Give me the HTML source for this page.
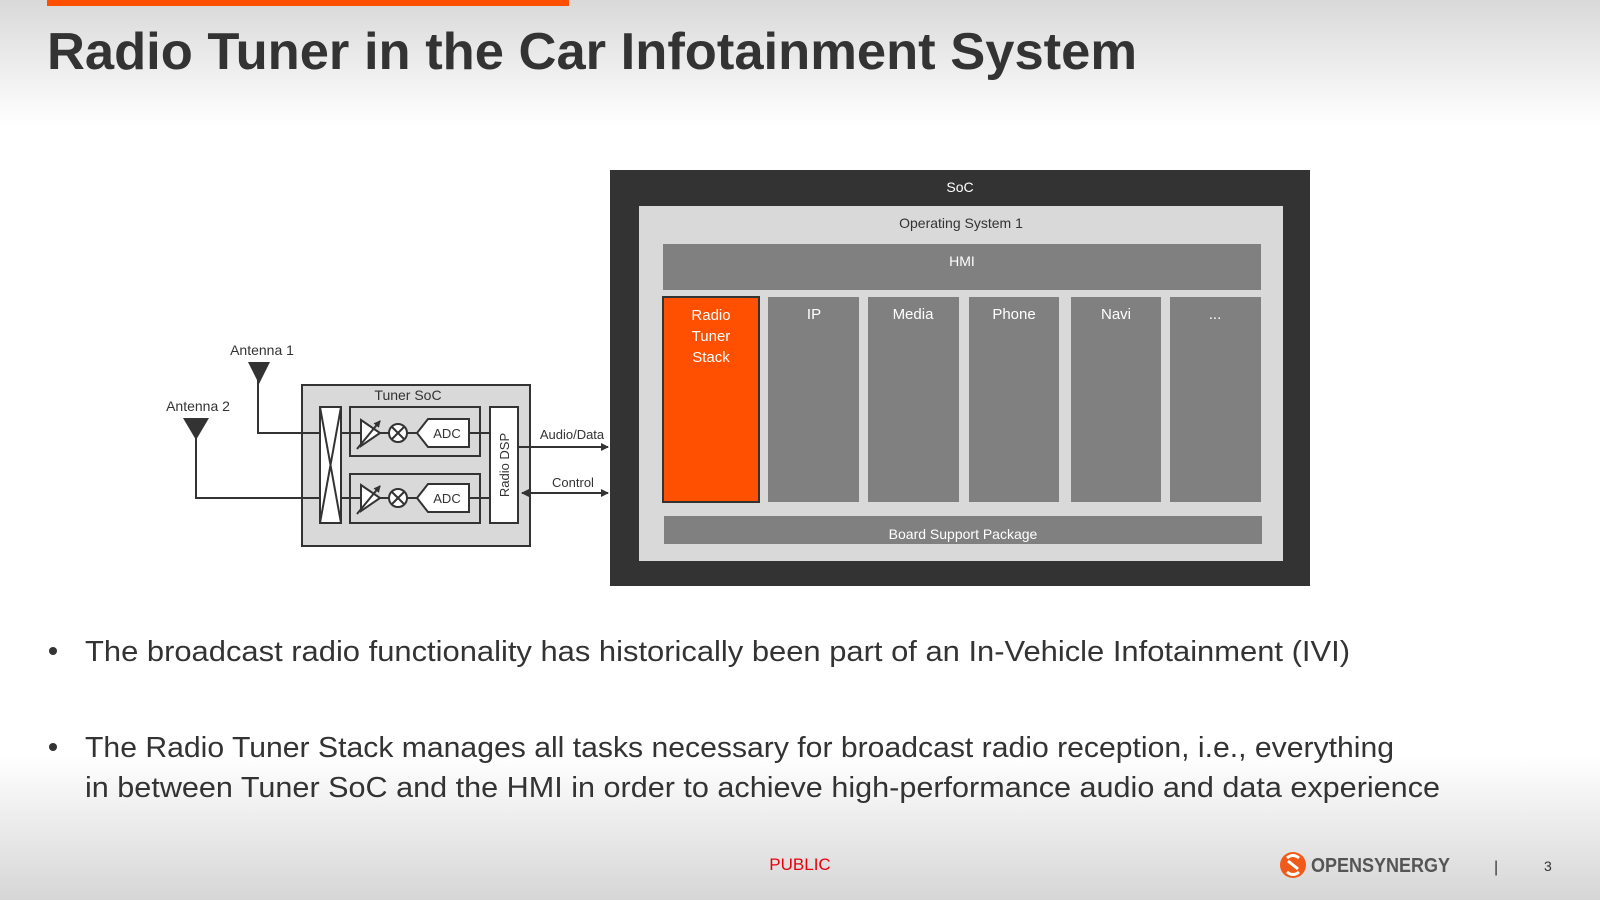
<!DOCTYPE html>
<html><head><meta charset="utf-8"><style>html,body{margin:0;padding:0;width:1600px;height:900px;overflow:hidden}</style></head><body>
<svg width="1600" height="900" viewBox="0 0 1600 900" xmlns="http://www.w3.org/2000/svg" font-family="Liberation Sans, sans-serif">
<defs>
<linearGradient id="bg" x1="0" y1="0" x2="0" y2="1">
<stop offset="0" stop-color="#d9d9d9"/><stop offset="0.14" stop-color="#ffffff"/>
<stop offset="0.84" stop-color="#ffffff"/><stop offset="1" stop-color="#d6d6d6"/>
</linearGradient>
<marker id="ar" markerWidth="8" markerHeight="8" refX="7" refY="4" orient="auto" markerUnits="userSpaceOnUse"><path d="M0,0 L8,4 L0,8z" fill="#333"/></marker>
<marker id="al" markerWidth="8" markerHeight="8" refX="1" refY="4" orient="auto" markerUnits="userSpaceOnUse"><path d="M8,0 L0,4 L8,8z" fill="#333"/></marker>
<marker id="as" markerWidth="7" markerHeight="7" refX="6" refY="3.5" orient="auto" markerUnits="userSpaceOnUse"><path d="M0,0 L7,3.5 L0,7z" fill="#333"/></marker>
</defs>
<rect width="1600" height="900" fill="url(#bg)"/>
<rect x="47" y="0" width="522" height="6" fill="#ff4f00"/>
<text x="47" y="69" font-size="52" font-weight="bold" fill="#333" textLength="1090" lengthAdjust="spacingAndGlyphs">Radio Tuner in the Car Infotainment System</text>

<rect x="610" y="170" width="700" height="416" fill="#333"/>
<text x="960" y="192" font-size="14" fill="#fff" text-anchor="middle">SoC</text>
<rect x="639" y="206" width="644" height="355" fill="#d9d9d9"/>
<text x="961" y="228" font-size="14" fill="#333" text-anchor="middle">Operating System 1</text>
<rect x="663" y="244" width="598" height="46" fill="#808080"/>
<text x="962" y="266" font-size="14" fill="#fff" text-anchor="middle">HMI</text>
<rect x="663" y="297" width="96" height="205" fill="#ff4f00" stroke="#333" stroke-width="2"/>
<g font-size="15" fill="#fff" text-anchor="middle">
<text x="711" y="320">Radio</text><text x="711" y="341">Tuner</text><text x="711" y="362">Stack</text>
</g>
<g fill="#808080">
<rect x="768" y="297" width="91" height="205"/><rect x="868" y="297" width="91" height="205"/>
<rect x="969" y="297" width="90" height="205"/><rect x="1071" y="297" width="90" height="205"/>
<rect x="1170" y="297" width="91" height="205"/>
</g>
<g font-size="15" fill="#fff" text-anchor="middle">
<text x="814" y="319">IP</text><text x="913" y="319">Media</text><text x="1014" y="319">Phone</text>
<text x="1116" y="319">Navi</text><text x="1215" y="319">...</text>
</g>
<rect x="664" y="516" width="598" height="28" fill="#808080"/>
<text x="963" y="539" font-size="14" fill="#fff" text-anchor="middle">Board Support Package</text>

<g stroke="#333" stroke-width="2" fill="none">
<rect x="302" y="385" width="228" height="161" fill="#d9d9d9"/>
<polyline points="258,380 258,433 320,433"/>
<polyline points="196,436 196,498 320,498"/>
<rect x="320" y="407" width="21" height="116" fill="#fff"/>
<line x1="320" y1="407" x2="341" y2="523"/><line x1="341" y1="407" x2="320" y2="523"/>
<rect x="350" y="407" width="130" height="49"/>
<rect x="350" y="474" width="130" height="49"/>
<rect x="490" y="407" width="28" height="116" fill="#fff"/>
<line x1="341" y1="433" x2="361" y2="433"/><line x1="341" y1="498" x2="361" y2="498"/>
<line x1="480" y1="433" x2="490" y2="433"/><line x1="480" y1="498" x2="490" y2="498"/>
<line x1="518" y1="447" x2="608" y2="447" marker-end="url(#ar)"/>
<line x1="522" y1="493" x2="608" y2="493" marker-end="url(#ar)" marker-start="url(#al)"/>
</g>
<g stroke="#333" stroke-width="2" fill="#fff">
<g id="chain">
<path d="M361,420 L380,433 L361,446z"/>
<line x1="357" y1="449" x2="380" y2="421" marker-end="url(#as)"/>
<line x1="380" y1="433" x2="389" y2="433"/>
<circle cx="398" cy="433" r="9"/>
<line x1="392" y1="427" x2="404" y2="439"/><line x1="404" y1="427" x2="392" y2="439"/>
<line x1="407" y1="433" x2="417" y2="433"/>
<path d="M417,433 L428,419 L469,419 L469,447 L428,447z"/>
<line x1="469" y1="433" x2="480" y2="433"/>
</g>
<use href="#chain" transform="translate(0,65)"/>
</g>
<path d="M248,362 L270,362 L259,384z" fill="#333"/>
<path d="M183,418 L209,418 L196,440z" fill="#333"/>
<g font-size="14" fill="#333" text-anchor="middle">
<text x="262" y="355">Antenna 1</text><text x="198" y="411">Antenna 2</text>
<text x="408" y="400">Tuner SoC</text>
<text x="447" y="438" font-size="13">ADC</text><text x="447" y="503" font-size="13">ADC</text>
<text x="572" y="439" font-size="13">Audio/Data</text><text x="573" y="487" font-size="13">Control</text>
<text transform="translate(509,465) rotate(-90)" font-size="13">Radio DSP</text>
</g>

<g font-size="29" fill="#333">
<circle cx="53" cy="651" r="4" fill="#333"/>
<text x="85" y="661" textLength="1265" lengthAdjust="spacingAndGlyphs">The broadcast radio functionality has historically been part of an In-Vehicle Infotainment (IVI)</text>
<circle cx="53" cy="747" r="4" fill="#333"/>
<text x="85" y="757" textLength="1309" lengthAdjust="spacingAndGlyphs">The Radio Tuner Stack manages all tasks necessary for broadcast radio reception, i.e., everything</text>
<text x="85" y="797" textLength="1355" lengthAdjust="spacingAndGlyphs">in between Tuner SoC and the HMI in order to achieve high-performance audio and data experience</text>
</g>

<text x="800" y="870" font-size="17" fill="#e8000b" text-anchor="middle">PUBLIC</text>
<circle cx="1293" cy="865" r="13" fill="#f05a1a"/>
<path d="M1287,858 q6,-5 12,0 M1299,872 q-6,5 -12,0 M1288,861 q5,4 10,8" stroke="#fff" stroke-width="3" fill="none"/>
<text x="1311" y="872" font-size="20" fill="#555" font-weight="bold" textLength="139" lengthAdjust="spacingAndGlyphs">OPENSYNERGY</text>
<text x="1494" y="872" font-size="16" fill="#333">|</text>
<text x="1544" y="871" font-size="14" fill="#333">3</text>
</svg>
</body></html>
